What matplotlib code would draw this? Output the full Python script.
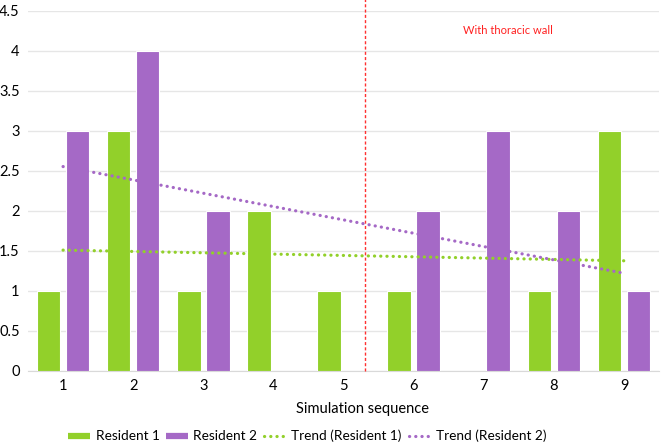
import matplotlib
matplotlib.use("Agg")
import matplotlib.pyplot as plt
from matplotlib.lines import Line2D
import numpy as np

categories = ["1", "2", "3", "4", "5", "6", "7", "8", "9"]
resident1 = [1, 3, 1, 2, 1, 1, 0, 1, 3]
resident2 = [3, 4, 2, 0, 0, 2, 3, 2, 1]
yticks = [0, 0.5, 1, 1.5, 2, 2.5, 3, 3.5, 4, 4.5]
ytick_labels = ["0", "0.5", "1", "1.5", "2", "2.5", "3", "3.5", "4", "4.5"]
divider_x = 5.31
annotation = "With thoracic wall"

green = "#92D02A"
purple = "#A569C6"

plt.rcParams['font.family'] = ['Lato', 'DejaVu Sans']

fig = plt.figure(figsize=(6.61, 4.47), dpi=100)
ax = fig.add_axes([28/661, 76/447, 631/661, 360/447])

x = np.arange(1, len(categories) + 1)
w = 0.335
off = 0.207
ax.bar(x - off, resident1, width=w, color=green, edgecolor="white", linewidth=0.8, zorder=3)
ax.bar(x + off, resident2, width=w, color=purple, edgecolor="white", linewidth=0.8, zorder=3)

trends = []
for ys, col in [(resident1, green), (resident2, purple)]:
    k, b = np.polyfit(x, ys, 1)
    ln, = ax.plot([x[0], x[-1]], [k * x[0] + b, k * x[-1] + b], color=col, linestyle=(0, (0.05, 1.9)),
                  linewidth=2.3, dash_capstyle="round", zorder=4)
    trends.append(ln)

ax.plot([divider_x, divider_x], [0, 1.035], transform=ax.get_xaxis_transform(), color="#FF3030",
        linestyle=(0, (2.2, 1.6)), linewidth=1, clip_on=False, zorder=5)
ax.text(7.35, 4.26, annotation, color="#FF2020", fontsize=8, ha="center", va="center")

ax.set_xlim(0.5, 9.5)
ax.set_ylim(0, 4.5)
ax.set_xticks(x)
ax.set_xticklabels(categories)
ax.set_yticks(yticks)
ax.set_yticklabels(ytick_labels)
ax.tick_params(axis="both", length=0, labelsize=10.5, colors="#000000")
ax.tick_params(axis="x", pad=6)
ax.tick_params(axis="y", pad=6)
ax.yaxis.grid(True, color="#E6E6E6", linewidth=1, zorder=0)
ax.set_axisbelow(True)
for s in ["top", "right", "left"]:
    ax.spines[s].set_visible(False)
ax.spines["bottom"].set_color("#D9D9D9")
ax.set_xlabel("Simulation sequence", fontsize=10.5, labelpad=5)
ax.xaxis.set_label_coords(0.53, -0.085)

hb1 = Line2D([], [], color=green, linewidth=4.5, solid_capstyle="butt")
hb2 = Line2D([], [], color=purple, linewidth=4.5, solid_capstyle="butt")
leg = fig.legend([hb1, hb2] + trends, ["Resident 1", "Resident 2", "Trend (Resident 1)", "Trend (Resident 2)"],
                 loc="center", bbox_to_anchor=(0.465, 1 - 436/447), ncol=4, frameon=False,
                 fontsize=9.8, handlelength=1.6, handletextpad=0.4, columnspacing=0.5)
fig.savefig("out.png", dpi=100)
